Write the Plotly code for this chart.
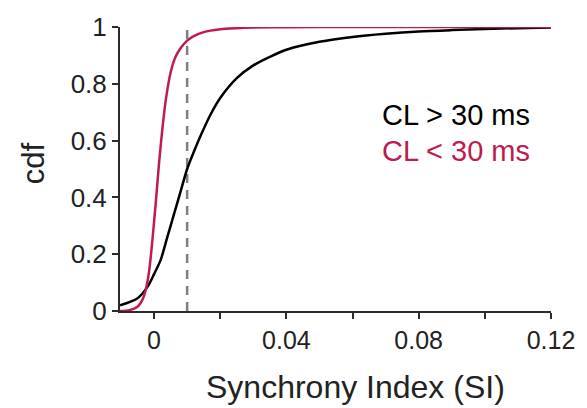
import plotly.graph_objects as go

# Data
black_x = [-0.0103, -0.005, -0.002, 0.0, 0.002, 0.004, 0.006, 0.008, 0.01, 0.012, 0.014, 0.017,
           0.02, 0.025, 0.03, 0.035, 0.04, 0.05, 0.06, 0.07, 0.08, 0.09, 0.1, 0.11, 0.12]
black_y = [0.02, 0.045, 0.085, 0.13, 0.18, 0.26, 0.34, 0.42, 0.50, 0.56, 0.615, 0.69,
           0.75, 0.82, 0.865, 0.895, 0.92, 0.948, 0.965, 0.976, 0.984, 0.989, 0.993, 0.996, 0.998]

red_x = [-0.0103, -0.0075, -0.005, -0.0035, -0.0025, -0.0015, -0.0005, 0.0005, 0.0015, 0.0025, 0.0035,
         0.005, 0.0065, 0.008, 0.01, 0.012, 0.015, 0.02, 0.025, 0.03, 0.04, 0.06, 0.08, 0.1, 0.12]
red_y = [0.0, 0.003, 0.015, 0.04, 0.075, 0.14, 0.25, 0.38, 0.52, 0.64, 0.74,
         0.84, 0.895, 0.925, 0.952, 0.968, 0.982, 0.992, 0.996, 0.998, 0.999, 1.0, 1.0, 1.0, 1.0]

threshold_x = [0.01, 0.01]
threshold_y = [0.0, 1.0]

x_tickvals = [0, 0.02, 0.04, 0.06, 0.08, 0.1, 0.12]
x_ticktext = ["0", "", "0.04", "", "0.08", "", "0.12"]
y_tickvals = [0, 0.2, 0.4, 0.6, 0.8, 1.0]
y_ticktext = ["0", "0.2", "0.4", "0.6", "0.8", "1"]

labels = ["CL > 30 ms", "CL < 30 ms"]
label_y = [0.69, 0.565]

x_title = "Synchrony Index (SI)"
y_title = "cdf"

BLACK = "#000000"
RED = "#BE1B4E"
AXIS = "#2b2b2b"
TXT = "#222222"
FONT = "Liberation Sans, Arial, sans-serif"

fig = go.Figure()
fig.add_trace(go.Scatter(x=threshold_x, y=threshold_y, mode="lines",
                         line=dict(color="#808080", width=2.5, dash="9px,7px"),
                         showlegend=False, cliponaxis=False))
fig.add_trace(go.Scatter(x=black_x, y=black_y, mode="lines",
                         line=dict(color=BLACK, width=2.5, shape="spline", smoothing=0.8),
                         showlegend=False, cliponaxis=False))
fig.add_trace(go.Scatter(x=red_x, y=red_y, mode="lines",
                         line=dict(color=RED, width=2.5, shape="spline", smoothing=0.8),
                         showlegend=False, cliponaxis=False))

for txt, yy, col in zip(labels, label_y, [BLACK, RED]):
    fig.add_annotation(x=0.0684, y=yy, xref="x", yref="y", text=txt, showarrow=False,
                       xanchor="left", yanchor="middle",
                       font=dict(family=FONT, size=29, color=col))

fig.add_annotation(x=0.546, y=-0.266, xref="paper", yref="paper", text=x_title, showarrow=False,
                   xanchor="center", yanchor="middle",
                   font=dict(family=FONT, size=32, color=TXT))
fig.add_annotation(x=-0.2005, y=0.519, xref="paper", yref="paper", text=y_title, showarrow=False,
                   xanchor="center", yanchor="middle", textangle=-90,
                   font=dict(family=FONT, size=31, color=TXT))

fig.update_layout(
    width=587, height=408,
    margin=dict(l=120, r=33, t=20, b=97),
    paper_bgcolor="white", plot_bgcolor="white",
    font=dict(family=FONT, color=TXT),
    showlegend=False,
)
fig.update_xaxes(range=[-0.0103, 0.12], tickvals=x_tickvals, ticktext=x_ticktext,
                 showgrid=False, zeroline=False, showline=True, linecolor=AXIS, linewidth=2,
                 ticks="outside", ticklen=6, tickwidth=2, tickcolor=AXIS,
                 tickfont=dict(family=FONT, size=25, color=TXT))
fig.update_yaxes(range=[0, 1], tickvals=y_tickvals, ticktext=y_ticktext,
                 showgrid=False, zeroline=False, showline=True, linecolor=AXIS, linewidth=2,
                 ticks="outside", ticklen=6, tickwidth=2, tickcolor=AXIS,
                 tickfont=dict(family=FONT, size=26, color=TXT))

fig.write_html("out.html")
